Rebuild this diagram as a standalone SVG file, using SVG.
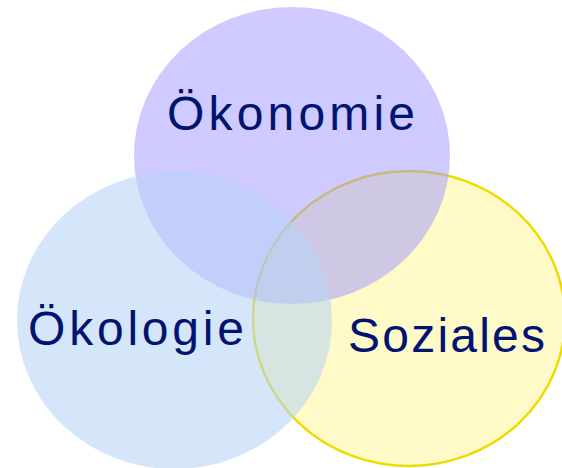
<svg xmlns="http://www.w3.org/2000/svg" width="562" height="468" viewBox="0 0 562 468">
<style>
.lbl{font-family:"Liberation Sans",Arial,sans-serif;font-size:48px;fill:#001470}
</style>
<rect width="562" height="468" fill="#ffffff"/>
<g id="soziales">
<ellipse cx="409" cy="318.5" rx="156" ry="147.5" fill="#fffac8" stroke="#eedc00" stroke-width="2.5"/>
</g>
<g id="oekonomie">
<ellipse cx="292" cy="155.5" rx="158" ry="148.5" fill="#a096ff" fill-opacity="0.5"/>
</g>
<g id="oekologie">
<ellipse cx="174.5" cy="320.5" rx="157.5" ry="148.5" fill="#b6d2f6" fill-opacity="0.56"/>
</g>
<g id="labels">
<text class="lbl" x="167" y="130" textLength="248" lengthAdjust="spacing">Ökonomie</text>
<text class="lbl" x="28" y="345" textLength="216" lengthAdjust="spacing">Ökologie</text>
<text class="lbl" x="348" y="352" textLength="197" lengthAdjust="spacing">Soziales</text>
</g>
</svg>
